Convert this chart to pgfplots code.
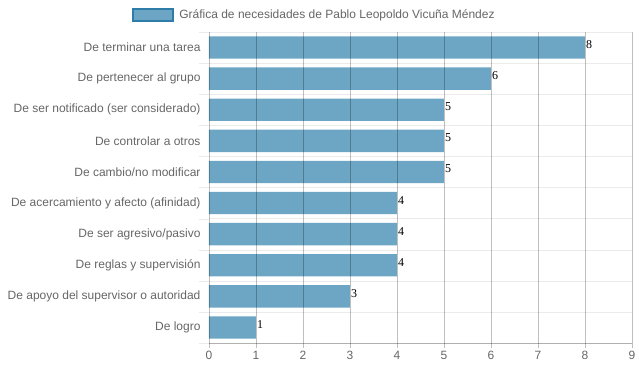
\documentclass[border=0pt]{standalone}
\usepackage{pgfplots}
\pgfplotsset{compat=1.18}
\usepackage{fontspec}
\setmainfont{Liberation Sans}
\newfontfamily\serifnum{Liberation Serif}
\definecolor{barfill}{RGB}{108,166,196}
\definecolor{bardark}{RGB}{46,125,168}
\definecolor{labelgray}{RGB}{102,102,102}
\begin{document}
\begin{tikzpicture}
\useasboundingbox (-209pt,-29pt) rectangle (430pt,343pt);
\begin{axis}[
  scale only axis, width=423pt, height=311pt,
  xbar, bar width=0.72,
  xmin=0, xmax=9, ymin=-0.5, ymax=9.5,
  y dir=reverse,
  xtick={0,...,9}, ytick={0,...,9},
  yticklabels={De terminar una tarea, De pertenecer al grupo, De ser notificado (ser considerado), De controlar a otros, De cambio/no modificar, De acercamiento y afecto (afinidad), De ser agresivo/pasivo, De reglas y supervisión, De apoyo del supervisor o autoridad, De logro},
  minor ytick={-0.5,0.5,...,9.5},
  axis x line*=bottom, axis y line*=left,
  x axis line style={draw=black, draw opacity=0.25, -},
  y axis line style={draw=none},
  xmajorgrids, yminorgrids,
  major x grid style={draw=black, draw opacity=0.25},
  minor y grid style={draw=black, draw opacity=0.08},
  tick align=outside, major tick length=5pt, minor tick length=10pt,
  major x tick style={draw=black, draw opacity=0.25},
  major y tick style={draw=none},
  minor y tick style={draw=black, draw opacity=0.08},
  axis on top,
  ticklabel style={font=\fontsize{12}{14}\selectfont, text=labelgray},
  /pgf/number format/assume math mode=true,
  nodes near coords,
  nodes near coords style={font=\serifnum\fontsize{12}{12}\selectfont, text=black, anchor=west, inner sep=1pt, yshift=3pt},
  legend style={at={(0.2494,1)}, anchor=center, yshift=17pt, draw=none, fill=none, font=\fontsize{12}{14}\selectfont, text=labelgray, inner sep=0pt},
]
\addplot[fill=barfill, draw=none,
  legend image code/.code={\draw[fill=barfill, draw=bardark, line width=2pt] (0pt,-6pt) rectangle (40pt,6pt); \path (44pt,0pt);}]
  coordinates {(8,0) (6,1) (5,2) (5,3) (5,4) (4,5) (4,6) (4,7) (3,8) (1,9)};
\addlegendentry{Gráfica de necesidades de Pablo Leopoldo Vicuña Méndez}
\end{axis}
\end{tikzpicture}
\end{document}
